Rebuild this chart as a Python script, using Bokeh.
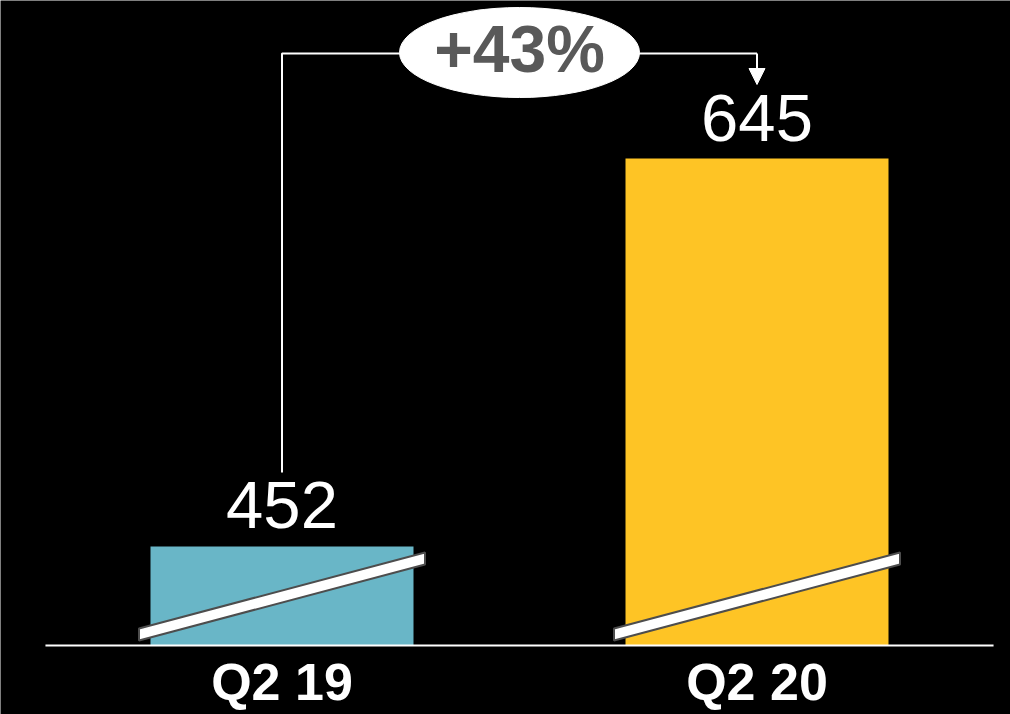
from bokeh.plotting import figure
from bokeh.models import Range1d, Arrow, NormalHead, ColumnDataSource
from bokeh.core.properties import value
from bokeh.embed import file_html
from bokeh.resources import INLINE

# ---- data ----
categories = ["Q2 19", "Q2 20"]
values = [452, 645]
bar_colors = ["#69B6C7", "#FEC425"]
growth_pct = round((values[1] / values[0] - 1) * 100)
growth_label = f"+{growth_pct}%"

# ---- layout (truncated axis, shown by break marks) ----
W, H = 1010, 714
floor = 402.7            # value at the baseline (axis is broken)
ppu = 2.0099             # pixels per value unit
xppu = 475.0             # pixels per category step
x0_px = 281.5            # pixel x of first category
base_px = 645.0          # pixel y of baseline

def vy(px):              # pixel y (from top) -> value
    return floor + (base_px - px) / ppu

def vx(px):
    return (px - x0_px) / xppu

xs = list(range(len(categories)))

p = figure(width=W, height=H, output_backend="svg", toolbar_location=None,
           x_range=Range1d(vx(0), vx(W)), y_range=Range1d(vy(H), vy(0)),
           min_border=0, min_border_left=0, min_border_right=0,
           min_border_top=0, min_border_bottom=0)
p.background_fill_color = "#000000"
p.border_fill_color = "#000000"
p.outline_line_color = None
p.xgrid.visible = False
p.ygrid.visible = False
p.xaxis.visible = False
p.yaxis.visible = False

src = ColumnDataSource(dict(x=xs, top=values, color=bar_colors, cat=categories,
                            lab=[str(v) for v in values]))

bw = 263 / xppu
p.vbar(x="x", top="top", bottom=floor, width=bw, fill_color="color",
       line_color=None, source=src)

# break marks
half = 143 / xppu
yl, yr, th = vy(634), vy(558), 6 / ppu
for x in xs:
    p.patch([x - half, x + half, x + half, x - half],
            [yl - th, yr - th, yr + th, yl + th],
            fill_color="white", line_color="#4D4D4D", line_width=2)

# baseline
p.line([xs[0] - 0.498, xs[-1] + 0.498], [floor, floor], line_color="white", line_width=2)

# value labels
p.text(x="x", y="top", text="lab", source=src, text_align="center",
       text_baseline="alphabetic", y_offset=-41, text_color="white",
       text_font=value("Liberation Sans"), text_font_size="67px")

# category labels
p.text(x="x", y=floor, text="cat", source=src, text_align="center",
       text_baseline="alphabetic", y_offset=36, text_color="white",
       text_font=value("Liberation Sans"), text_font_size="52px",
       text_font_style="bold")

# growth annotation
y_top = vy(53)
p.line([xs[0], xs[0], xs[1]], [vy(472), y_top, y_top], line_color="white", line_width=2)
p.add_layout(Arrow(end=NormalHead(size=16, fill_color="white", line_color="white", line_width=1),
                   x_start=xs[1], y_start=y_top, x_end=xs[1], y_end=vy(84),
                   line_color="white", line_width=2))
mid = (xs[0] + xs[1]) / 2
p.ellipse(x=[mid], y=[vy(52)], width=[240], height=[90],
          width_units="screen", height_units="screen",
          fill_color="white", line_color="white")
p.text(x=[mid], y=[y_top], text=[growth_label], text_align="center",
       text_baseline="alphabetic", y_offset=-5, text_color="#595959",
       text_font=value("Liberation Sans"), text_font_size="66px",
       text_font_style="bold")

html = file_html(p, INLINE)
html = html.replace("<body>", '<body style="background:#000000;">', 1)
open("out.html", "w").write(html)
